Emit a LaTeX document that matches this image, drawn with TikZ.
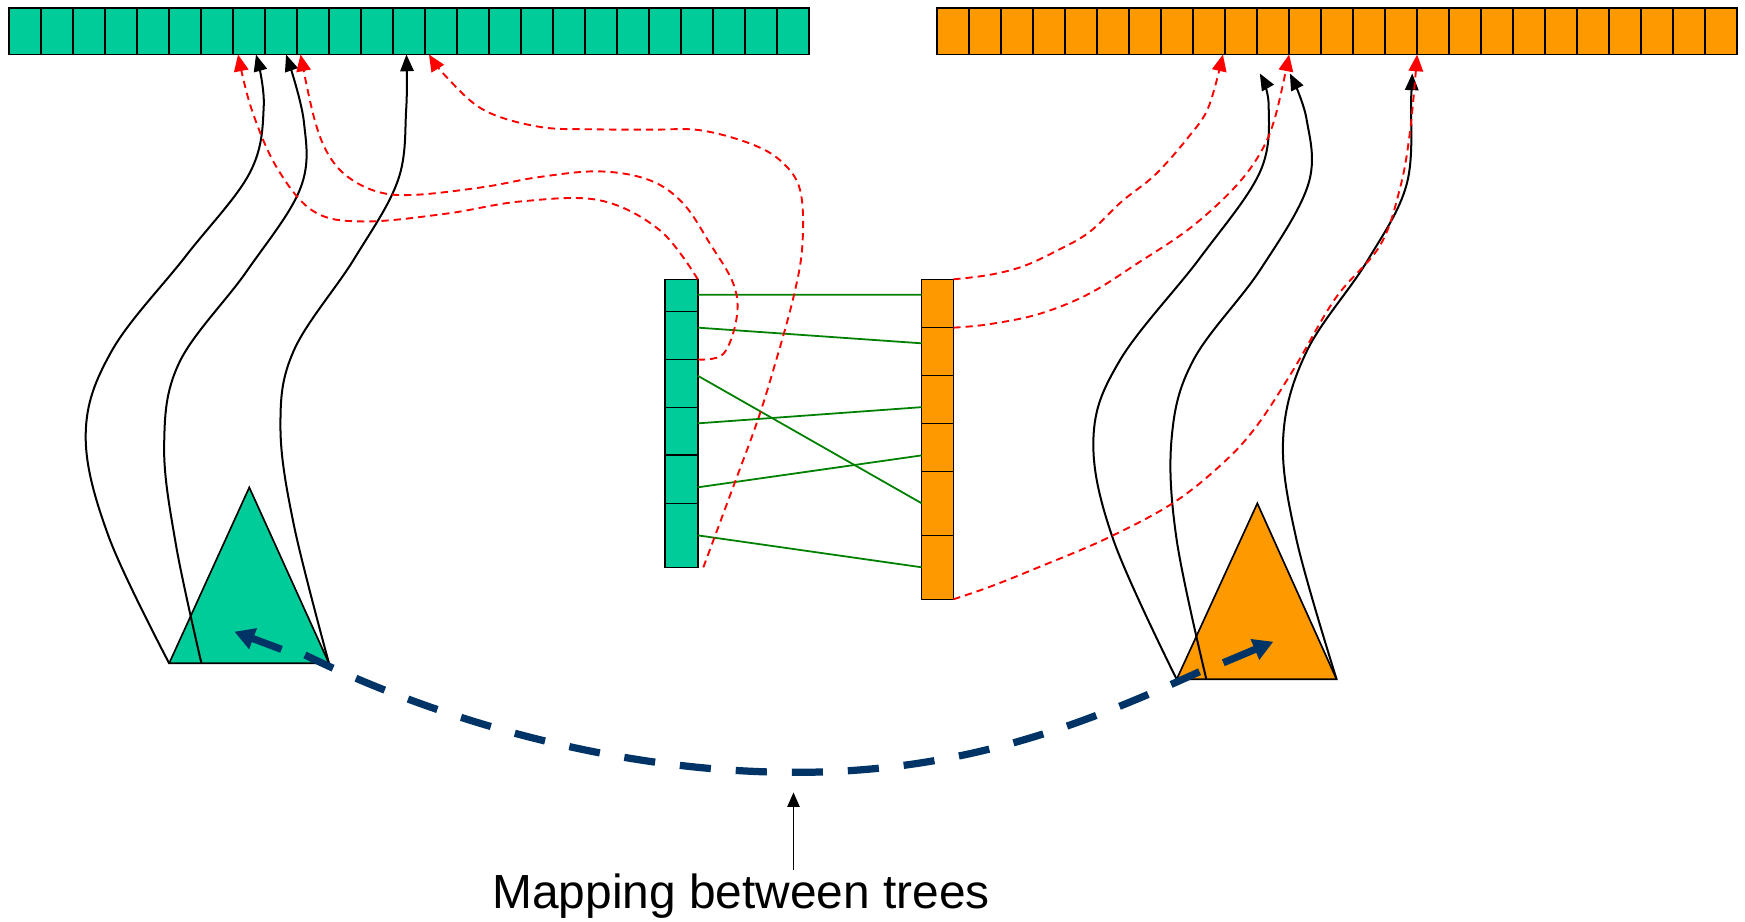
\documentclass[tikz,border=0pt]{standalone}
\usepackage{fontspec}
\setmainfont{Liberation Sans}
\usetikzlibrary{arrows.meta,calc}
\definecolor{tealfill}{HTML}{00CC99}
\definecolor{orangefill}{HTML}{FF9900}
\definecolor{linkgreen}{HTML}{008000}
\definecolor{navy}{HTML}{003366}
\begin{document}
\begin{tikzpicture}[x=1pt,y=-1pt,
  cell/.style={draw=black, line width=1.4pt, inner sep=0pt, outer sep=0pt, anchor=north west},
  gcell/.style={cell, fill=tealfill},
  ocell/.style={cell, fill=orangefill},
  tree/.style={draw=black, line width=1.5pt, line join=miter},
  link/.style={draw=linkgreen, line width=1.6pt},
  feed/.style={draw=black, line width=1.8pt, -{Triangle[length=15pt,width=12pt]}},
  redir/.style={draw=red, line width=1.7pt, dash pattern=on 6.5pt off 4.5pt, -{Triangle[length=15pt,width=13pt]}},
  mapcurve/.style={draw=navy, line width=6.5pt, dash pattern=on 28pt off 22.4pt},
  maptip/.style={draw=navy, line width=6.5pt, -{Triangle[length=18pt,width=19pt]}},
  pointer/.style={draw=black, line width=1.4pt, -{Triangle[length=13pt,width=11pt]}},
]
\useasboundingbox (0,0) rectangle (1568,828);

% long arrays at the top
\foreach \i in {1,...,25} {
  \node[gcell, minimum width=28.76pt, minimum height=42pt] (gt\i) at ({8+28.76*(\i-1)},7) {};
  \node[ocell, minimum width=28.76pt, minimum height=42pt] (ot\i) at ({842+28.76*(\i-1)},7) {};
}

% short arrays in the middle
\foreach \i/\a/\b in {1/251/280,2/280/323,3/323/366,4/366/409,5/409/452.3,6/452.3/509.8}
  \node[gcell, minimum width=29.5pt, minimum height={(\b-\a)*1pt}] (ga\i) at (597.5,\a) {};
\foreach \i/\a/\b in {1/251/294.4,2/294.4/337.6,3/337.6/380.4,4/380.4/423.5,5/423.5/481,6/481/538.5}
  \node[ocell, minimum width=28.4pt, minimum height={(\b-\a)*1pt}] (oa\i) at (828.2,\a) {};

% links between the short arrays
\draw[link] ($(ga1.north east)!0.48!(ga1.south east)$) -- ($(oa1.north west)!0.32!(oa1.south west)$);
\draw[link] ($(ga2.north east)!0.335!(ga2.south east)$) -- ($(oa2.north west)!0.326!(oa2.south west)$);
\draw[link] ($(ga3.north east)!0.34!(ga3.south east)$) -- (oa5.west);
\draw[link] ($(ga4.north east)!0.335!(ga4.south east)$) -- ($(oa3.north west)!0.66!(oa3.south west)$);
\draw[link] ($(ga5.north east)!0.667!(ga5.south east)$) -- ($(oa4.north west)!0.668!(oa4.south west)$);
\draw[link] (ga6.east) -- (oa6.west);

% trees
\coordinate (gtop) at (224,438);
\coordinate (gleft) at (152,596);
\coordinate (gright) at (295.6,596);
\coordinate (gfoot) at (181,596);
\coordinate (otop) at (1129.8,452.3);
\coordinate (oleft) at (1057.3,610.4);
\coordinate (oright) at (1201,610.4);
\coordinate (ofoot) at (1084,610.4);
\draw[tree, fill=tealfill] (gleft) -- (gtop) -- (gright) -- cycle;
\draw[tree, fill=orangefill] (oleft) -- (otop) -- (oright) -- cycle;

% entry points on the long arrays
\coordinate (gk1) at ($(gt8.south west)!0.72!(gt8.south east)$);
\coordinate (gk2) at ($(gt9.south west)!0.66!(gt9.south east)$);
\coordinate (gk3) at ($(gt13.south west)!0.42!(gt13.south east)$);
\coordinate (gr1) at ($(gt8.south west)!0.16!(gt8.south east)$);
\coordinate (gr2) at ($(gt10.south west)!0.11!(gt10.south east)$);
\coordinate (gr3) at ($(gt14.south west)!0.125!(gt14.south east)$);
\coordinate (ok1) at (1132,66);
\coordinate (ok2) at (1159,66);
\coordinate (ok3) at (1269,66);
\coordinate (or1) at ($(ot10.south west)+(-2,0)$);
\coordinate (or2) at (ot12.south west);
\coordinate (or3) at (ot16.south west);

% tree nodes stored in the long arrays
\draw[feed] plot[smooth, tension=0.6] coordinates {(gleft) (97.6,482) (77,390) (100.6,315) (167,230) (224.6,155) (237,95) (gk1)};
\draw[feed] plot[smooth, tension=0.6] coordinates {(gfoot) (158,489) (147.5,400) (161,326) (221.5,244) (270,169) (273,109) (gk2)};
\draw[feed] plot[smooth, tension=0.6] coordinates {(gright) (264,471.5) (252,383) (264,315) (318,233) (357.6,162) (365,98) (gk3)};
\draw[feed] plot[smooth, tension=0.6] coordinates {(oleft) (1000.4,485) (982.5,394) (1006.4,323.6) (1078.3,231.7) (1132.2,154.5) (1140,95) (ok1)};
\draw[feed] plot[smooth, tension=0.6] coordinates {(ofoot) (1057.3,485) (1052.8,393.5) (1072.3,323.6) (1132.2,242.7) (1175.6,165.5) (1174,107) (ok2)};
\draw[feed] plot[smooth, tension=0.6] coordinates {(oright) (1165,485) (1153,393.5) (1174,316) (1228,235.4) (1264,165.5) (1268,88) (ok3)};

% mapped entries pointing back into the long arrays
\draw[redir] plot[smooth, tension=0.6] coordinates {(ga1.north east) (593,207) (539,180) (468,181) (401,192) (327,199) (282,190) (249,151) (226,98) (gr1)};
\draw[redir] plot[smooth, tension=0.6] coordinates {(ga3.north east) (650,318) (662,285) (659,255) (638,219) (614,183) (584,162) (539,154) (485,159) (435,168) (374,175) (340,172.5) (312,158.5) (294,137) (282,105) (gr2)};
\draw[redir] plot[smooth, tension=0.6] coordinates {($(ga6.south east)+(5,0)$) (659,437) (680,380) (695,332) (713,267) (721,220) (719,171) (702,145) (674,129) (629,117) (586,116.5) (535.6,116.2) (485,114) (435,99) (401,69) (gr3)};
\draw[redir] plot[smooth, tension=0.6] coordinates {(oa1.north east) (889,247) (919,239.4) (949,225.6) (978.5,208.8) (1008,181) (1038,157) (1068,123) (1086,96) (or1)};
\draw[redir] plot[smooth, tension=0.6] coordinates {(oa2.north east) (889,291.3) (934,282) (978.5,264) (1023,236) (1068,206) (1106,172) (1130,141.6) (1145,108) (or2)};
\draw[redir] plot[smooth, tension=0.6] coordinates {(oa6.south east) (889.6,527.2) (934.5,509.2) (994,484) (1054,452) (1099,416) (1129,383) (1162,332.5) (1200,268) (1240,220.6) (1258,169) (1267,118) (or3)};

% mapping between the two trees
\coordinate (mapL) at (274,588.5);
\coordinate (mapB) at (715,694);
\coordinate (mapR) at (1080,602.6);
\draw[mapcurve] (mapL) .. controls (400,650) and (560,694) .. (mapB)
  .. controls (870,694) and (980,648) .. (mapR);
\draw[maptip] (253,583.5) -- (210.6,567.6);
\draw[maptip] (1099.2,595.5) -- (1144.2,576.6);

% caption
\node[inner sep=0pt, anchor=base, font=\fontsize{43}{50}\selectfont] (lbl) at (666,816) {Mapping between trees};
\coordinate (ptr) at (713,712);
\draw[pointer] (lbl.north -| ptr) ++(0,-3) -- (ptr);
\end{tikzpicture}
\end{document}
